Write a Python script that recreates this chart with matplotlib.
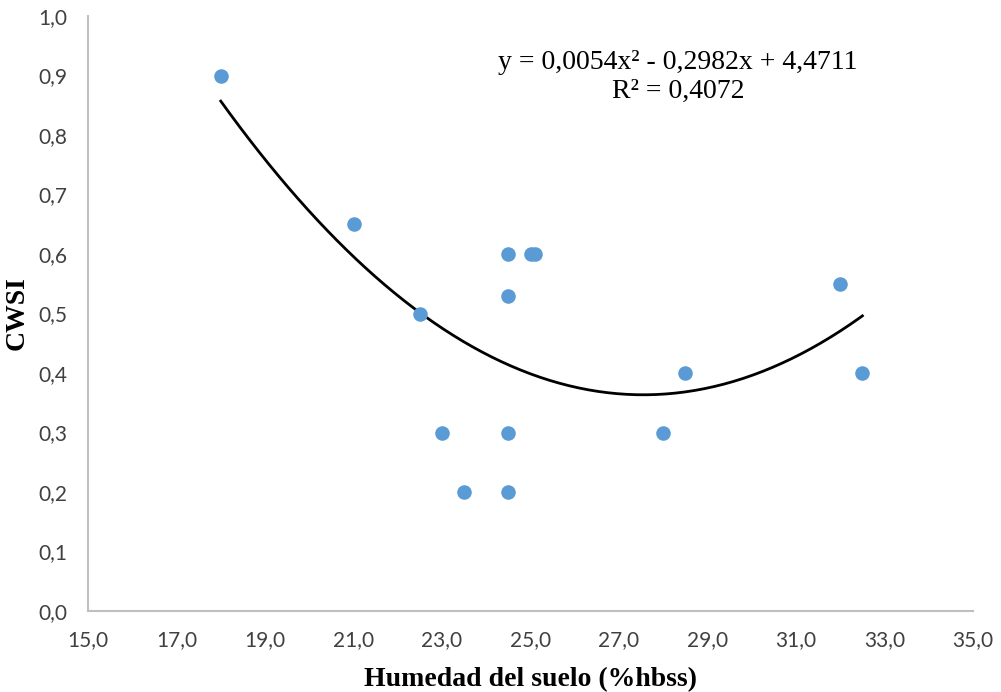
import numpy as np
import matplotlib.pyplot as plt

# datos
humedad = [18.0, 21.0, 22.5, 23.0, 23.5, 24.5, 24.5, 24.5, 24.5, 25.0, 25.1, 28.0, 28.5, 32.0, 32.5]
cwsi = [0.90, 0.65, 0.50, 0.30, 0.20, 0.60, 0.53, 0.30, 0.20, 0.60, 0.60, 0.30, 0.40, 0.55, 0.40]

# texto de la línea de tendencia polinómica (Excel)
ecuacion = "y = 0,0054x² - 0,2982x + 4,4711\nR² = 0,4072"

x_ticks = [15, 17, 19, 21, 23, 25, 27, 29, 31, 33, 35]
y_ticks = [0.0, 0.1, 0.2, 0.3, 0.4, 0.5, 0.6, 0.7, 0.8, 0.9, 1.0]

fig = plt.figure(figsize=(10.01, 6.92), dpi=100)
ax = fig.add_axes([88 / 1001, 1 - 611 / 692, (973 - 88) / 1001, (611 - 16) / 692])

ax.scatter(humedad, cwsi, s=110, color='#5B9BD5', zorder=3, linewidths=0)

# tendencia de orden 2 ajustada a los puntos
coef = np.polyfit(humedad, cwsi, 2)
xs = np.linspace(min(humedad), max(humedad), 200)
ax.plot(xs, np.polyval(coef, xs), color='black', linewidth=2.0, zorder=2)

ax.set_xlim(15, 35)
ax.set_ylim(0, 1.0)
ax.set_xticks(x_ticks)
ax.set_yticks(y_ticks)
ax.set_xticklabels([f"{v:.1f}".replace('.', ',') for v in x_ticks])
ax.set_yticklabels([f"{v:.1f}".replace('.', ',') for v in y_ticks])
ax.tick_params(length=0, labelsize=15, labelcolor='#404040')
ax.tick_params(axis='y', pad=15)
ax.tick_params(axis='x', pad=14)
for lab in ax.get_xticklabels() + ax.get_yticklabels():
    lab.set_fontfamily('Lato')

for side in ['top', 'right']:
    ax.spines[side].set_visible(False)
for side in ['left', 'bottom']:
    ax.spines[side].set_color('#BFBFBF')
    ax.spines[side].set_linewidth(1.5)

ax.set_xlabel("Humedad del suelo (%hbss)", fontfamily='Liberation Serif',
              fontweight='bold', fontsize=20, labelpad=12)
ax.set_ylabel("CWSI", fontfamily='Liberation Serif', fontweight='bold',
              fontsize=20, labelpad=6)

fig.text(678 / 1001, 1 - 77 / 692, ecuacion, ha='center', va='center',
         fontfamily='Liberation Serif', fontsize=20, linespacing=1.2)

fig.savefig("out.png", dpi=100)
